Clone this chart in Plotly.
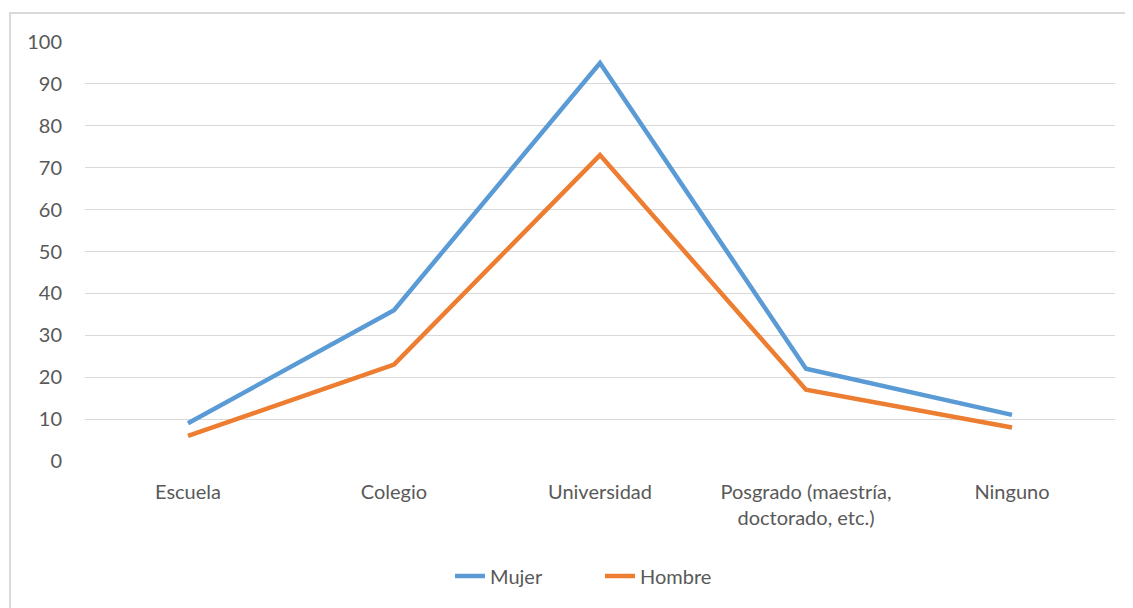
import plotly.graph_objects as go

categories = ["Escuela", "Colegio", "Universidad", "Posgrado (maestría,<br>doctorado, etc.)", "Ninguno"]
mujer = [9, 36, 95, 22, 11]
hombre = [6, 23, 73, 17, 8]
y_ticks = [0, 10, 20, 30, 40, 50, 60, 70, 80, 90, 100]

OFF = 8  # page body margin
W, H = 1133 - OFF, 608 - OFF
L, R, T, B = 85 - OFF, 18, 42 - OFF, 147
pw, ph = W - L - R, H - T - B

def px_x(p):
    return (p - OFF - L) / pw

def px_y(p):
    return (H - B - (p - OFF)) / ph

fig = go.Figure()
fig.add_trace(go.Scatter(x=categories, y=mujer, mode="lines", name="Mujer",
                         line=dict(color="#5B9BD5", width=4.5)))
fig.add_trace(go.Scatter(x=categories, y=hombre, mode="lines", name="Hombre",
                         line=dict(color="#ED7D31", width=4.5)))

font = dict(family="Lato, 'Open Sans', sans-serif", size=20, color="#595959")

fig.update_layout(
    width=W, height=H,
    margin=dict(l=L, r=R, t=T, b=B),
    paper_bgcolor="white", plot_bgcolor="white",
    font=font,
    showlegend=True,
    legend=dict(orientation="h", x=0.5, xanchor="center", y=px_y(576), yanchor="middle",
                font=font, itemwidth=30, tracegroupgap=0, entrywidth=105,
                entrywidthmode="pixels"),
    xaxis=dict(type="category", range=[-0.5, 4.5], showgrid=False, zeroline=False,
               showline=False, ticks="", ticklabelstandoff=17, tickfont=font),
    yaxis=dict(range=[0, 100], tickvals=y_ticks, showgrid=True, gridcolor="#D9D9D9",
               gridwidth=1, zeroline=False, showline=False, ticks="",
               ticklabelstandoff=22, tickfont=font),
    shapes=[dict(type="rect", xref="paper", yref="paper",
                 x0=px_x(10), y0=px_y(640), x1=px_x(1160), y1=px_y(13),
                 line=dict(color="#D9D9D9", width=2), fillcolor="rgba(0,0,0,0)",
                 layer="below")],
)

fig.write_html("out.html")
